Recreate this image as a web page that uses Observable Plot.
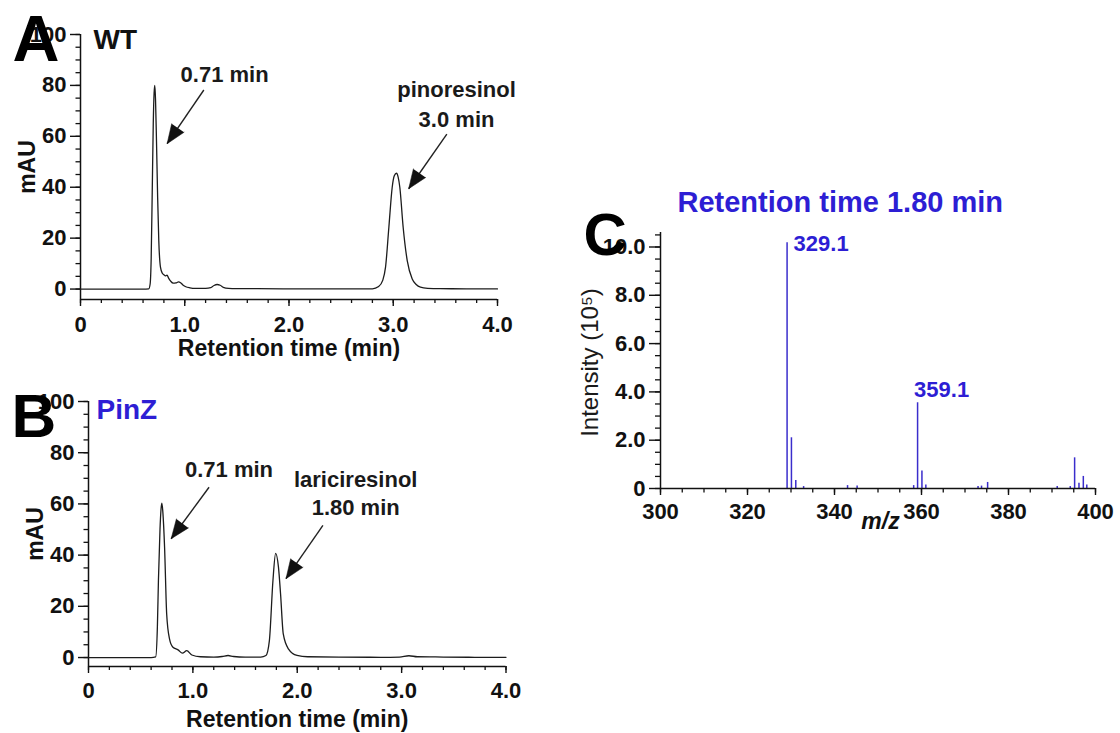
<!DOCTYPE html>
<html>
<head>
<meta charset="utf-8">
<script src="https://cdn.jsdelivr.net/npm/d3@7"></script>
<script src="https://cdn.jsdelivr.net/npm/@observablehq/plot@0.6"></script>
<style>
  html, body { margin: 0; padding: 0; background: #ffffff; }
  #fig { position: relative; width: 1120px; height: 733px; background: #ffffff; overflow: hidden; }
  #fig svg { position: absolute; }
</style>
</head>
<body>
<div id="fig"></div>
<script>
// ---------------- DATA ----------------
// Panel A (WT) chromatogram: retention time (min) and absorbance (mAU)
const timeA = [0, 0.3, 0.6, 0.655, 0.668, 0.678, 0.688, 0.698, 0.706, 0.713, 0.72, 0.729, 0.74, 0.751, 0.767, 0.785, 0.80, 0.815, 0.83, 0.845, 0.865, 0.89, 0.915, 0.94, 0.96, 0.985, 1.01, 1.05, 1.1, 1.2, 1.25, 1.28, 1.31, 1.34, 1.37, 1.42, 1.5, 1.7, 2.0, 2.3, 2.6, 2.8, 2.86, 2.90, 2.926, 2.958, 2.99, 3.01, 3.031, 3.047, 3.063, 3.095, 3.134, 3.182, 3.22, 3.261, 3.33, 3.45, 3.7, 4.0];
const mauA  = [0, 0, 0, 0.1, 2, 12, 38, 65, 77, 80, 74, 58, 36, 19, 8.6, 6.2, 5.6, 5.2, 5.5, 4.3, 3.1, 2.3, 2.4, 2.8, 2.5, 1.5, 0.9, 0.5, 0.3, 0.3, 0.6, 1.4, 1.8, 1.5, 0.7, 0.3, 0.2, 0.15, 0.1, 0.05, 0.1, 0.1, 1.0, 3.5, 8.6, 24.3, 40, 44.5, 45.5, 44, 40, 24.3, 11.2, 4.0, 1.8, 0.75, 0.3, 0.15, 0.1, 0.05];

// Panel B (PinZ) chromatogram
const timeB = [0, 0.3, 0.6, 0.644, 0.66, 0.67, 0.685, 0.695, 0.703, 0.712, 0.729, 0.749, 0.776, 0.809, 0.858, 0.90, 0.941, 0.99, 1.073, 1.2, 1.28, 1.337, 1.39, 1.5, 1.65, 1.70, 1.733, 1.767, 1.793, 1.82, 1.84, 1.866, 1.915, 1.998, 2.1, 2.4, 2.8, 2.98, 3.07, 3.15, 3.4, 3.7, 4.0];
const mauB  = [0, 0, 0, 0.3, 12, 30, 50, 58, 60.3, 57, 43, 17, 7.3, 4, 3, 1.7, 2.7, 1.0, 0.3, 0.2, 0.4, 0.8, 0.4, 0.2, 0.2, 0.8, 6.6, 30, 40.7, 35.3, 24.9, 9.2, 3.4, 0.8, 0.3, 0.2, 0.1, 0.2, 0.7, 0.3, 0.2, 0.1, 0.1];

// Panel C mass spectrum at 1.80 min: m/z and intensity (x10^5)
const mzValues  = [329.1, 330.1, 331.1, 332.9, 343.0, 345.2, 358.2, 359.1, 360.1, 361.0, 373.0, 373.8, 375.2, 391.2, 394.2, 395.2, 396.2, 397.2, 398.0];
const intensity = [10.18, 2.1, 0.33, 0.08, 0.12, 0.1, 0.12, 3.55, 0.72, 0.15, 0.08, 0.1, 0.25, 0.08, 0.08, 1.27, 0.22, 0.5, 0.15];
const peakLabels = ["329.1", "359.1"];

// Tick values and labels
const timeTicks = [0, 1, 2, 3, 4];
const timeTickLabels = ["0", "1.0", "2.0", "3.0", "4.0"];
const mauTicks = [0, 20, 40, 60, 80, 100];
const mzTicks = [300, 320, 340, 360, 380, 400];
const intensityTicks = [0, 2, 4, 6, 8, 10];
const intensityTickLabels = ["0", "2.0", "4.0", "6.0", "8.0", "10.0"];

// Annotations (data units)
const notesA = [
  {t: 1.382, v: 81.3, label: "0.71 min"},
  {t: 3.607, v: 63.6, label: "pinoresinol\n3.0 min"}
];
const arrowsA = [
  {t1: 1.183, v1: 78.2, t2: 0.831, v2: 57.1},
  {t1: 3.514, v1: 60.9, t2: 3.148, v2: 39.4}
];
const notesB = [
  {t: 1.346, v: 70.4, label: "0.71 min"},
  {t: 2.56, v: 55.5, label: "lariciresinol\n1.80 min"}
];
const arrowsB = [
  {t1: 1.155, v1: 66.5, t2: 0.792, v2: 46.4},
  {t1: 2.246, v1: 51.6, t2: 1.892, v2: 30.8}
];

// ---------------- STYLE ----------------
const FONT = "'Liberation Sans', Arial, Helvetica, sans-serif";
const INK = "#111111";
const BLUE = "#2d1ed4";
const BLUE_LINE = "#3a2dcc";

const traceA = timeA.map((t, i) => ({t, v: mauA[i]}));
const traceB = timeB.map((t, i) => ({t, v: mauB[i]}));
const spectrum = mzValues.map((m, i) => ({mz: m, I: intensity[i]}));
const labelRows = peakLabels.map(l => ({mz: +l, I: intensity[mzValues.indexOf(+l)], label: l}));

const fmtTime = d => timeTickLabels[timeTicks.indexOf(d)];
const fmtInt = d => intensityTickLabels[intensityTicks.indexOf(d)];

function arrowMarks(arrows, W, H, m, xDomain, yDomain) {
  const sx = Plot.scale({x: {domain: xDomain, range: [m.left, W - m.right]}});
  const sy = Plot.scale({y: {domain: yDomain, range: [H - m.bottom, m.top]}});
  const rows = arrows.map(a => {
    const dx = sx.apply(a.t2) - sx.apply(a.t1);
    const dy = sy.apply(a.v2) - sy.apply(a.v1);
    return {...a, angle: Math.atan2(dx, -dy) * 180 / Math.PI};
  });
  return [
    Plot.link(rows, {x1: "t1", y1: "v1", x2: "t2", y2: "v2", stroke: "#222", strokeWidth: 1.4}),
    Plot.vector(rows, {x: "t2", y: "v2", rotate: "angle", length: 19, r: 7.5, shape: "spike", anchor: "end", fill: "#111", stroke: "#111", strokeWidth: 0.5})
  ];
}

function chromatogram({W, H, m, yMin, trace, notes, arrows, letter, letterSize, letterDx, letterDy, title, titleColor, titleDx, titleDy, labelDy, noteLineHeight, tickPad}) {
  const xDomain = [0, 4], yDomain = [yMin, 100];
  return Plot.plot({
    width: W, height: H,
    marginTop: m.top, marginRight: m.right, marginBottom: m.bottom, marginLeft: m.left,
    x: {domain: xDomain, label: null},
    y: {domain: yDomain, label: null},
    style: {fontFamily: FONT, color: INK, background: "transparent", overflow: "visible"},
    marks: [
      Plot.ruleY([yMin], {x1: 0, x2: 4, stroke: INK, strokeWidth: 1.5}),
      Plot.ruleX([0], {y1: yMin, y2: 100, stroke: INK, strokeWidth: 1.5}),
      Plot.axisX(d3.range(0, 4.0001, 0.2), {tickSize: 4, tickFormat: () => "", strokeWidth: 1.3, label: null}),
      Plot.axisX(timeTicks, {tickSize: 7, tickPadding: tickPad, tickFormat: fmtTime, fontSize: 22, fontWeight: "bold", strokeWidth: 1.4, label: null}),
      Plot.axisY(d3.range(0, 100.001, 5), {tickSize: 4.5, tickFormat: () => "", strokeWidth: 1.3, label: null}),
      Plot.axisY(mauTicks, {tickSize: 10, tickPadding: 4, fontSize: 22, fontWeight: "bold", strokeWidth: 1.4, label: null}),
      Plot.line(trace, {x: "t", y: "v", stroke: "#1c1c1c", strokeWidth: 1.3, curve: "monotone-x"}),
      ...arrowMarks(arrows, W, H, m, xDomain, yDomain),
      Plot.text(notes, {x: "t", y: "v", text: "label", fontSize: 22, fontWeight: "bold", textAnchor: "middle", lineAnchor: "bottom", lineHeight: noteLineHeight, fill: "#1a1a1a"}),
      Plot.text(["Retention time (min)"], {text: d => d, frameAnchor: "bottom", dy: labelDy, lineAnchor: "bottom", textAnchor: "middle", fontSize: 23, fontWeight: "bold"}),
      Plot.text(["mAU"], {text: d => d, frameAnchor: "left", dx: -45.5, rotate: -90, textAnchor: "middle", lineAnchor: "bottom", fontSize: 23, fontWeight: "bold"}),
      Plot.text([title], {text: d => d, frameAnchor: "top-left", dx: titleDx, dy: titleDy, textAnchor: "start", lineAnchor: "bottom", fontSize: 28, fontWeight: "bold", fill: titleColor}),
      Plot.text([letter], {text: d => d, frameAnchor: "top-left", dx: letterDx, dy: letterDy, textAnchor: "start", lineAnchor: "bottom", fontSize: letterSize, fontWeight: "bold", fill: "#000"})
    ]
  });
}

const fig = document.getElementById("fig");

// Panel A
const svgA = chromatogram({
  W: 540, H: 370, m: {top: 34, right: 43, bottom: 71, left: 80}, yMin: -4.1,
  trace: traceA, notes: notesA, arrows: arrowsA,
  letter: "A", letterSize: 65, letterDx: -68, letterDy: 26,
  title: "WT", titleColor: "#111", titleDx: 13, titleDy: 14.3,
  labelDy: 56, noteLineHeight: 1.38, tickPad: 10
});
svgA.style.left = "0px"; svgA.style.top = "0px";
fig.appendChild(svgA);

// Panel B
const svgB = chromatogram({
  W: 540, H: 353, m: {top: 21, right: 34.5, bottom: 67, left: 88}, yMin: -3.5,
  trace: traceB, notes: notesB, arrows: arrowsB,
  letter: "B", letterSize: 62, letterDx: -77, letterDy: 35.7,
  title: "PinZ", titleColor: BLUE, titleDx: 8, titleDy: 17.3,
  labelDy: 60.7, noteLineHeight: 1.29, tickPad: 9
});
svgB.style.left = "0px"; svgB.style.top = "380px";
fig.appendChild(svgB);

// Panel C
const WC = 560, HC = 360;
const svgC = Plot.plot({
  width: WC, height: HC,
  marginTop: 52, marginRight: 25, marginBottom: 52, marginLeft: 100,
  x: {domain: [300, 400], label: null},
  y: {domain: [0, 10.6], label: null},
  style: {fontFamily: FONT, color: INK, background: "transparent", overflow: "visible"},
  marks: [
    Plot.ruleX(spectrum, {x: "mz", y1: 0, y2: "I", stroke: BLUE_LINE, strokeWidth: 1.5}),
    Plot.ruleY([0], {x1: 300, x2: 400, stroke: INK, strokeWidth: 1.5}),
    Plot.ruleX([300], {y1: 0, y2: 10.6, stroke: INK, strokeWidth: 1.5}),
    Plot.axisX(d3.range(300, 400.001, 5), {tickSize: 4.5, tickFormat: () => "", strokeWidth: 1.3, label: null}),
    Plot.axisX(mzTicks, {tickSize: 7, tickPadding: 8, fontSize: 22, fontWeight: "bold", strokeWidth: 1.4, label: null}),
    Plot.axisY(d3.range(0, 10.5001, 0.5), {tickSize: 5, tickFormat: () => "", strokeWidth: 1.3, label: null}),
    Plot.axisY(intensityTicks, {tickSize: 11, tickPadding: 4, tickFormat: fmtInt, fontSize: 22, fontWeight: "bold", strokeWidth: 1.4, label: null}),
    Plot.text(labelRows.filter(d => d.label === "329.1"), {x: "mz", y: "I", text: "label", dx: 6.5, dy: 8.8, textAnchor: "start", lineAnchor: "bottom", fontSize: 22, fontWeight: "bold", fill: BLUE}),
    Plot.text(labelRows.filter(d => d.label === "359.1"), {x: "mz", y: "I", text: "label", dx: -3.5, dy: -5.3, textAnchor: "start", lineAnchor: "bottom", fontSize: 22, fontWeight: "bold", fill: BLUE}),
    Plot.text(["Retention time 1.80 min"], {text: d => d, frameAnchor: "top-left", dx: 17, dy: -20.3, textAnchor: "start", lineAnchor: "bottom", fontSize: 29, fontWeight: "bold", fill: BLUE}),
    Plot.text(["Intensity (10\u2075)"], {text: d => d, frameAnchor: "left", dx: -63, dy: 2, rotate: -90, textAnchor: "middle", lineAnchor: "bottom", fontSize: 24, fill: "#1a1a1a"}),
    Plot.text(["m/z"], {text: d => d, frameAnchor: "bottom", dx: 2.5, dy: 40, textAnchor: "middle", lineAnchor: "bottom", fontSize: 23, fontWeight: "bold", fontStyle: "italic"}),
    Plot.text(["C"], {text: d => d, frameAnchor: "top-left", dx: -77, dy: 22, textAnchor: "start", lineAnchor: "bottom", fontSize: 60, fontWeight: "bold", fill: "#000"})
  ]
});
svgC.style.left = "560px"; svgC.style.top = "180px";
fig.appendChild(svgC);
</script>
</body>
</html>
